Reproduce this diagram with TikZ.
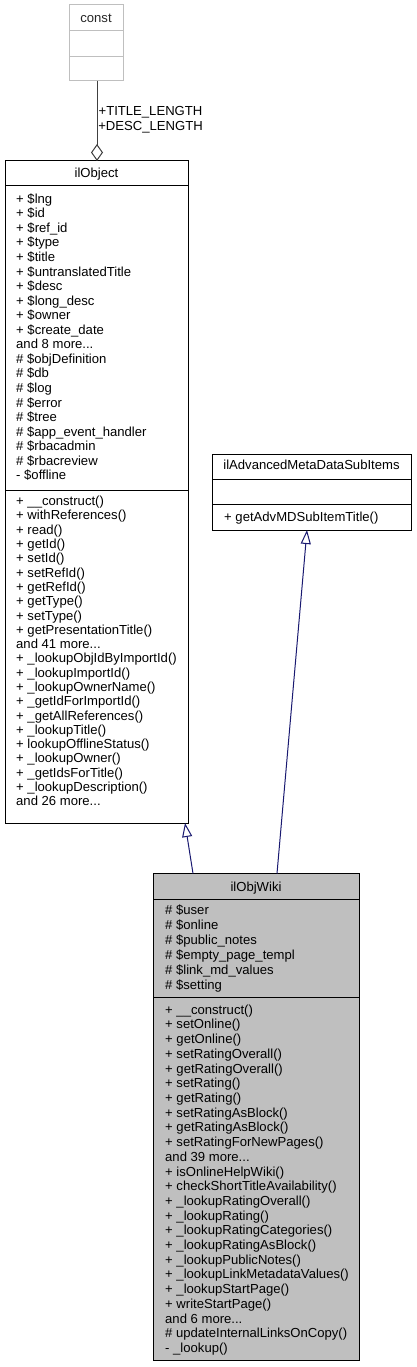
\documentclass[tikz,border=0pt]{standalone}
\usepackage{fontspec}
\setmainfont{Liberation Sans}
\usetikzlibrary{arrows.meta}
\definecolor{navy}{HTML}{191970}
\definecolor{wikigray}{HTML}{BFBFBF}
\definecolor{constgray}{HTML}{BFBFBF}
\definecolor{aggline}{HTML}{404040}
\newcommand{\fstrut}{\rule{0pt}{11pt}}
\begin{document}
\begin{tikzpicture}[x=1pt,y=-1pt,
  cls/.style={draw=black, line width=1pt, rectangle, inner sep=0pt, outer sep=0pt, anchor=north west},
  txt/.style={anchor=north west, align=left, inner sep=0pt, font=\fontsize{13.1}{#1}\selectfont},
  ttl/.style={anchor=base, inner sep=0pt, font=\fontsize{13.1}{15}\selectfont},
  divline/.style={line width=1pt},
  inh/.style={draw=navy, line width=1pt, -{Triangle[open, length=14pt, width=10pt, fill=white]}},
  agg/.style={draw=aggline, line width=1pt, -{Diamond[open, length=17pt, width=12pt, fill=white]}},
]
\useasboundingbox (0,0) rectangle (416,1367);

% const
\node[cls, draw=constgray, minimum width=54pt, minimum height=76pt] (const) at (69,5) {};
\draw[divline, draw=constgray] (69,31) -- (123,31);
\draw[divline, draw=constgray] (69,57) -- (123,57);
\node[ttl, text=black!85] (constname) at (96,22.5) {const};

% ilObject
\node[cls, minimum width=183pt, minimum height=662pt] (ilobject) at (5,161) {};
\draw[divline] (5,185.7) -- (188,185.7);
\draw[divline] (5,490.5) -- (188,490.5);
\node[ttl] (ilobjectname) at (96.5,178) {ilObject};
\node[txt=14.56] (ilobjectattr) at (16,192) {\fstrut+ \$lng\\+ \$id\\+ \$ref\_id\\+ \$type\\+ \$title\\+ \$untranslatedTitle\\+ \$desc\\+ \$long\_desc\\+ \$owner\\+ \$create\_date\\and 8 more...\\\# \$objDefinition\\\# \$db\\\# \$log\\\# \$error\\\# \$tree\\\# \$app\_event\_handler\\\# \$rbacadmin\\\# \$rbacreview\\- \$offline};
\node[txt=14.29] (ilobjectmeth) at (16,494.5) {\fstrut+ \_\_construct()\\+ withReferences()\\+ read()\\+ getId()\\+ setId()\\+ setRefId()\\+ getRefId()\\+ getType()\\+ setType()\\+ getPresentationTitle()\\and 41 more...\\+ \_lookupObjIdByImportId()\\+ \_lookupImportId()\\+ \_lookupOwnerName()\\+ \_getIdForImportId()\\+ \_getAllReferences()\\+ \_lookupTitle()\\+ lookupOfflineStatus()\\+ \_lookupOwner()\\+ \_getIdsForTitle()\\+ \_lookupDescription()\\and 26 more...};

% ilAdvancedMetaDataSubItems
\node[cls, minimum width=199pt, minimum height=76pt] (iladv) at (212,454) {};
\draw[divline] (212,479) -- (411,479);
\draw[divline] (212,504) -- (411,504);
\node[ttl] (iladvname) at (311.5,469.5) {ilAdvancedMetaDataSubItems};
\node[txt=14.5] (iladvmeth) at (224,510) {\fstrut+ getAdvMDSubItemTitle()};

% ilObjWiki
\node[cls, fill=wikigray, minimum width=206pt, minimum height=486.5pt] (wiki) at (153,873.5) {};
\draw[divline] (153,899.3) -- (359,899.3);
\draw[divline] (153,997.7) -- (359,997.7);
\node[ttl] (wikiname) at (256,891) {ilObjWiki};
\node[txt=14.87] (wikiattr) at (165,903.7) {\fstrut\# \$user\\\# \$online\\\# \$public\_notes\\\# \$empty\_page\_templ\\\# \$link\_md\_values\\\# \$setting};
\node[txt=14.71] (wikimeth) at (165,1003) {\fstrut+ \_\_construct()\\+ setOnline()\\+ getOnline()\\+ setRatingOverall()\\+ getRatingOverall()\\+ setRating()\\+ getRating()\\+ setRatingAsBlock()\\+ getRatingAsBlock()\\+ setRatingForNewPages()\\and 39 more...\\+ isOnlineHelpWiki()\\+ checkShortTitleAvailability()\\+ \_lookupRatingOverall()\\+ \_lookupRating()\\+ \_lookupRatingCategories()\\+ \_lookupRatingAsBlock()\\+ \_lookupPublicNotes()\\+ \_lookupLinkMetadataValues()\\+ \_lookupStartPage()\\+ writeStartPage()\\and 6 more...\\\# updateInternalLinksOnCopy()\\- \_lookup()};

% connectors
\draw[agg] ([xshift=1pt]const.south) -- ([xshift=1pt]const.south |- ilobject.north);
\node[align=center, inner sep=0pt, font=\fontsize{13.1}{14.7}\selectfont] (agglabel) at (150.5,119.4) {+TITLE\_LENGTH\\+DESC\_LENGTH};
\draw[inh] ([xshift=40pt]wiki.north west) -- ([xshift=180pt]ilobject.south west);
\draw[inh] ([xshift=124pt]wiki.north west) -- ([xshift=95pt]iladv.south west);
\end{tikzpicture}
\end{document}
